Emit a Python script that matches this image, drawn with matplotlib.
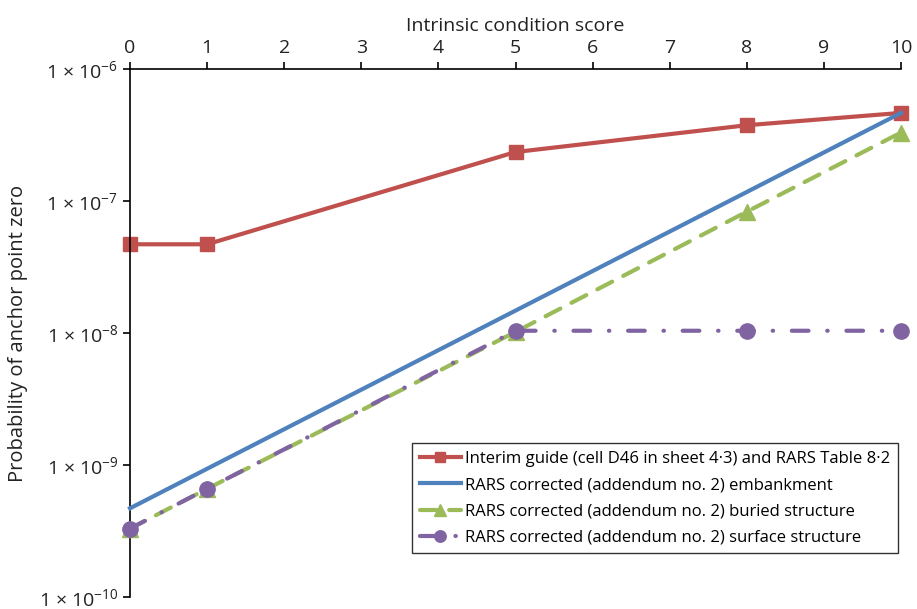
import numpy as np
import matplotlib
matplotlib.use("Agg")
import matplotlib.pyplot as plt
from matplotlib.ticker import FixedLocator, FuncFormatter

plt.rcParams['font.family'] = ['Open Sans', 'DejaVu Sans']
plt.rcParams['mathtext.default'] = 'regular'

# data
x_red = [0, 1, 5, 8, 10]
y_red = [4.7e-8, 4.7e-8, 2.35e-7, 3.75e-7, 4.65e-7]

x_blue = [0, 10]
y_blue = [4.7e-10, 4.65e-7]

x_green = [0, 1, 5, 8, 10]
y_green = [3.3e-10, 6.6e-10, 1.02e-8, 8.3e-8, 3.3e-7]

x_purple = [0, 1, 5, 8, 10]
y_purple = [3.3e-10, 6.6e-10, 1.04e-8, 1.04e-8, 1.04e-8]

labels = ['Interim guide (cell D46 in sheet 4·3) and RARS Table 8·2',
          'RARS corrected (addendum no. 2) embankment',
          'RARS corrected (addendum no. 2) buried structure',
          'RARS corrected (addendum no. 2) surface structure']

fig = plt.figure(figsize=(9.17, 6.09), dpi=100)
ax = fig.add_axes([0.1418, 0.0197, 0.8408, 0.867])

ax.plot(x_red, y_red, color='#C0504D', lw=3, marker='s', ms=10,
        label=labels[0], zorder=2)
ax.plot(x_blue, y_blue, color='#4F81BD', lw=3, label=labels[1], zorder=3)
ax.plot(x_green, y_green, color='#9BBB59', lw=3, marker='^', ms=12,
        dashes=(4, 3), dash_capstyle='round', label=labels[2], zorder=4)
ax.plot(x_purple, y_purple, color='#8064A2', lw=3, marker='o', ms=11,
        dashes=(4, 4.5, 0.1, 4.5), dash_capstyle='round', label=labels[3], zorder=5)

ax.set_yscale('log')
ax.set_ylim(1e-10, 1e-6)
ax.set_xlim(0, 10)
ax.yaxis.set_major_locator(FixedLocator([1e-10, 1e-9, 1e-8, 1e-7, 1e-6]))
ax.yaxis.set_minor_locator(FixedLocator([]))
ax.yaxis.set_major_formatter(FuncFormatter(
    lambda v, p: '1 × 10$^{%d}$' % int(round(np.log10(v)))))
ax.set_xticks(range(0, 11))

ax.xaxis.tick_top()
ax.xaxis.set_label_position('top')
ax.spines['right'].set_visible(False)
ax.spines['bottom'].set_visible(False)
ax.tick_params(direction='out', length=5, width=1.2, labelsize=14,
               labelcolor='#222222')
for s in ['left', 'top']:
    ax.spines[s].set_linewidth(1.2)

ax.set_xlabel('Intrinsic condition score', fontsize=14, labelpad=6, color='#222222')
ax.set_ylabel('Probability of anchor point zero', fontsize=14.5, labelpad=8,
              color='#222222')

leg = ax.legend(loc='lower right', bbox_to_anchor=(0.996, 0.083), fontsize=12,
                frameon=True, fancybox=False, edgecolor='black', numpoints=1,
                markerscale=0.75, handlelength=2.5, handletextpad=0.25,
                borderpad=0.45, labelspacing=0.62, borderaxespad=0)
leg.get_frame().set_linewidth(1)
for l in ax.lines:
    l.set_clip_on(False)

fig.savefig('out.png', dpi=100)
